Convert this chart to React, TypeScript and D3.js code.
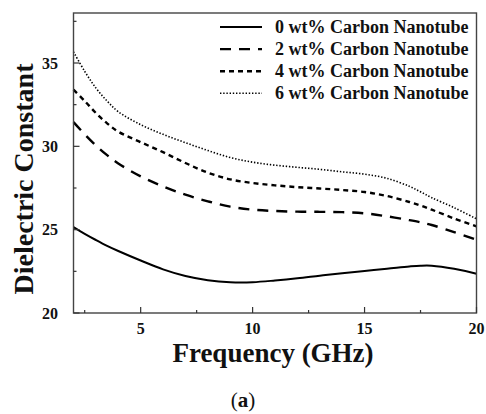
import React from "react";
import * as d3 from "d3";

const freq = [2, 2.5, 3, 3.5, 4, 5, 6, 7, 8, 9, 10, 11, 12, 13, 14, 15, 16, 17, 17.5, 18, 19, 20];
const cnt0 = [25.15, 24.75, 24.38, 24.03, 23.72, 23.15, 22.62, 22.22, 21.97, 21.85, 21.85, 21.95, 22.08, 22.24, 22.39, 22.52, 22.65, 22.79, 22.84, 22.84, 22.65, 22.35];
const cnt2 = [31.45, 30.72, 30.05, 29.47, 28.97, 28.2, 27.6, 27.1, 26.7, 26.38, 26.2, 26.12, 26.08, 26.07, 26.05, 25.98, 25.8, 25.57, 25.44, 25.28, 24.85, 24.4];
const cnt4 = [33.4, 32.72, 32.0, 31.38, 30.88, 30.25, 29.65, 29.0, 28.42, 28.02, 27.8, 27.66, 27.55, 27.47, 27.38, 27.26, 27.02, 26.66, 26.45, 26.2, 25.67, 25.2];
const cnt6 = [35.67, 34.5, 33.5, 32.72, 32.08, 31.3, 30.72, 30.22, 29.75, 29.33, 29.05, 28.87, 28.74, 28.62, 28.47, 28.33, 28.08, 27.6, 27.27, 26.92, 26.32, 25.65];
const seriesLabels = ["0 wt% Carbon Nanotube", "2 wt% Carbon Nanotube", "4 wt% Carbon Nanotube", "6 wt% Carbon Nanotube"];
const xTicks = [5, 10, 15, 20];
const xMinor = [2.5, 7.5, 12.5, 17.5];
const yTicks = [20, 25, 30, 35];
const yMinor = [22.5, 27.5, 32.5, 37.5];

const FONT = "'Liberation Serif', 'Times New Roman', serif";

export default function App() {
  const W = 486, H = 414;
  const left = 73.5, right = 476.5, top = 13, bottom = 313;
  const x = d3.scaleLinear().domain([2, 20]).range([left, right]);
  const y = d3.scaleLinear().domain([20, 38]).range([bottom, top]);
  const line = d3
    .line<number>()
    .x((_, i) => x(freq[i]))
    .y((d) => y(d))
    .curve(d3.curveCatmullRom.alpha(0.5));

  const series = [
    { vals: cnt0, dash: "none", w: 2 },
    { vals: cnt2, dash: "11,8", w: 2.4 },
    { vals: cnt4, dash: "5,4", w: 2.4 },
    { vals: cnt6, dash: "1.4,1.8", w: 1.6 },
  ];

  return (
    <svg width={W} height={H} style={{ position: "absolute", left: 0, top: 0, background: "#fff" }} fontFamily={FONT}>
      <rect x={0} y={0} width={W} height={H} fill="#fff" />
      {series.map((s, i) => (
        <path key={i} d={line(s.vals) || ""} fill="none" stroke="#000" strokeWidth={s.w} strokeDasharray={s.dash} />
      ))}
      {/* frame */}
      <rect x={left} y={top} width={right - left} height={bottom - top} fill="none" stroke="#444" strokeWidth={1.4} />
      {/* x ticks */}
      {xTicks.map((t) => (
        <g key={"xt" + t}>
          <line x1={x(t)} x2={x(t)} y1={bottom} y2={bottom - 6} stroke="#333" strokeWidth={1.2} />
          <text x={x(t)} y={334} textAnchor="middle" fontSize={16} fontWeight="bold" fill="#111">{t}</text>
        </g>
      ))}
      {xMinor.map((t) => (
        <line key={"xm" + t} x1={x(t)} x2={x(t)} y1={bottom} y2={bottom - 3} stroke="#333" strokeWidth={1.2} />
      ))}
      {yTicks.map((t) => (
        <g key={"yt" + t}>
          <line x1={left} x2={left + 6} y1={y(t)} y2={y(t)} stroke="#333" strokeWidth={1.2} />
          <text x={58} y={y(t)} dy="0.35em" textAnchor="end" fontSize={16} fontWeight="bold" fill="#111">{t}</text>
        </g>
      ))}
      {yMinor.map((t) => (
        <line key={"ym" + t} x1={left} x2={left + 3} y1={y(t)} y2={y(t)} stroke="#333" strokeWidth={1.2} />
      ))}
      {/* legend */}
      {seriesLabels.map((lab, i) => {
        const cy = 27 + i * 22.1;
        return (
          <g key={lab}>
            <line x1={220} x2={262} y1={cy} y2={cy} stroke="#000" strokeWidth={series[i].w} strokeDasharray={series[i].dash} />
            <text x={275} y={cy + 6} fontSize={18} fontWeight="bold" fill="#111">{lab}</text>
          </g>
        );
      })}
      {/* axis titles */}
      <text x={273} y={362} textAnchor="middle" fontSize={27} fontWeight="bold" fill="#111">Frequency (GHz)</text>
      <text transform={`translate(33,179) rotate(-90)`} textAnchor="middle" fontSize={28} fontWeight="bold" fill="#111">Dielectric Constant</text>
      <text x={243} y={407} textAnchor="middle" fontSize={21} fill="#111">
        (<tspan fontWeight="bold">a</tspan>)
      </text>
    </svg>
  );
}
